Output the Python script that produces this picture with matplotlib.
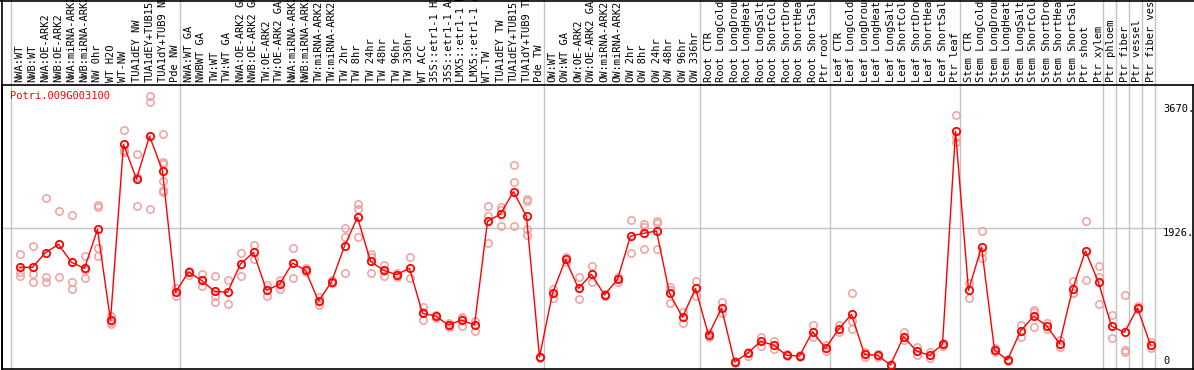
import numpy as np
import matplotlib
matplotlib.use("Agg")
import matplotlib.pyplot as plt
from matplotlib.lines import Line2D

gene = "Potri.009G003100"

samples = [
    "NWA:WT", "NWB:WT", "NWA:OE-ARK2", "NWB:OE-ARK2", "NWA:miRNA-ARK2", "NWB:miRNA-ARK2",
    "NW 0hr", "WT H2O", "WT-NW", "TUA1dEY NW", "TUA1dEY+TUB15", "TUA1dY+TUB9 NW", "Pde NW",
    "NWA:WT GA", "NWBWT GA", "TW:WT", "TW:WT GA", "NWA:OE-ARK2 GA", "NWB:OE-ARK2 GA",
    "TW:OE-ARK2", "TW:OE-ARK2 GA", "NWA:miRNA-ARK2", "NWB:miRNA-ARK2", "TW:miRNA-ARK2",
    "TW:miRNA-ARK2", "TW 2hr", "TW 8hr", "TW 24hr", "TW 48hr", "TW 96hr", "TW 336hr",
    "WT ACC", "35S::etr1-1 H2", "35S::etr1-1 AC", "LMX5::etr1-1 H", "LMX5::etr1-1 A",
    "WT-TW", "TUA1dEY TW", "TUA1dEY+TUB15", "TUA1dY+TUB9 TW", "Pde TW",
    "OW:WT", "OW:WT GA", "OW:OE-ARK2", "OW:OE-ARK2 GA", "OW:miRNA-ARK2", "OW:miRNA-ARK2",
    "OW 2hr", "OW 8hr", "OW 24hr", "OW 48hr", "OW 96hr", "OW 336hr",
    "Root CTR", "Root LongCold", "Root LongDroug", "Root LongHeat", "Root LongSalt",
    "Root ShortCold", "Root ShortDrou", "Root ShortHeat", "Root ShortSalt", "Ptr root",
    "Leaf CTR", "Leaf LongCold", "Leaf LongDroug", "Leaf LongHeat", "Leaf LongSalt",
    "Leaf ShortCold", "Leaf ShortDrou", "Leaf ShortHeat", "Leaf ShortSalt", "Ptr leaf",
    "Stem CTR", "Stem LongCold", "Stem LongDroug", "Stem LongHeat", "Stem LongSalt",
    "Stem ShortCold", "Stem ShortDrou", "Stem ShortHeat", "Stem ShortSalt", "Ptr shoot",
    "Ptr xylem", "Ptr phloem", "Ptr fiber", "Ptr vessel", "Ptr fiber vess",
]

# mean expression per sample
means = [
    1379, 1379, 1584, 1701, 1449, 1365, 1912, 635, 3104, 2618, 3221, 2735, 1028,
    1313, 1196, 1042, 1028, 1425, 1589, 1056, 1140, 1439, 1337, 906, 1173, 1678,
    2080, 1463, 1337, 1276, 1365, 733, 696, 570, 640, 570, 2024, 2127, 2440, 2094, 121,
    1014, 1491, 1084, 1281, 991, 1210, 1818, 1856, 1888, 1014, 677, 1084,
    429, 808, 51, 172, 340, 289, 144, 135, 476, 242,
    509, 719, 158, 144, 8, 406, 205, 144, 298, 3287,
    1056, 1664, 219, 79, 485, 691, 560, 308, 1070, 1608,
    1168, 551, 467, 808, 289,
]

# replicate values per sample
replicates = [
    [1566, 1308, 1262], [1673, 1280, 1177], [2347, 1238, 1173], [2164, 1238],
    [2108, 1173, 1070], [1533, 1341, 1224], [2258, 2220, 1645, 1533], [696, 616, 584],
    [3301, 3025, 2992], [2964, 2641, 2244], [3783, 3703, 2192],
    [3245, 2856, 2828, 2590, 2464, 2440], [1084, 981],
    [1332, 1276], [1285, 1196, 1121], [1252, 981, 888], [1196, 859], [1575, 1252],
    [1692, 1500], [1131, 972], [1201, 1079], [1650, 1229], [1365, 1308], [967, 855],
    [1201, 1163], [1926, 1804, 1299], [2262, 2197, 1804], [1566, 1528, 1299],
    [1416, 1327, 1262], [1294, 1248], [1519, 1224], [817, 747, 635], [710, 663],
    [593, 546], [686, 663, 560], [626, 490], [2244, 2099, 1725], [2230, 2183, 1954],
    [2814, 2571, 1954], [2342, 2314, 1912, 1828], [120, 102],
    [1079, 953], [1519, 1458], [1238, 930], [1397, 1168], [1004, 976], [1248, 1177],
    [2043, 1575], [1987, 1940, 1631], [2033, 2005, 1631], [1098, 1060, 883], [756, 602],
    [1182, 976],
    [462, 396], [887, 733], [60, 41], [191, 134], [396, 279], [349, 233], [158, 130],
    [149, 120], [569, 396], [289, 209],
    [569, 476], [1014, 630, 509], [186, 125], [163, 125], [22, 5], [476, 359],
    [265, 144], [191, 102], [321, 275], [3516, 3203, 3142],
    [1159, 944], [1888, 1598, 1505], [242, 191], [88, 69], [569, 396], [780, 747, 546],
    [602, 518], [359, 265], [1182, 1014, 1014], [2029, 1196],
    [1397, 1238, 864], [710, 387], [990, 219, 195], [836, 789], [336, 242],
]

# group separators: after these sample counts
group_ends = [0, 13, 41, 53, 63, 73, 84, 85, 86, 87, 88]
ytick_vals = [3670, 1926, 0]
ytick_text = ["3670.", "1926.", "0"]

W, H = 1194, 370
fig = plt.figure(figsize=(W / 100, H / 100), dpi=100)
ax = fig.add_axes([2 / W, 1 / H, 1191 / W, 284 / H])

x = np.arange(1, len(samples) + 1)
ax.set_xlim(1 + (2 - 19.5) / 13, 1 + (1193 - 19.5) / 13)
ax.set_ylim(-47.7, 3937)
ax.set_xticks([])
ax.set_yticks([])
for s in ax.spines.values():
    s.set_color("black")
    s.set_linewidth(1.2)

mono = "DejaVu Sans Mono"
grey = "#c4c4c4"

# horizontal grid at middle value
ax.axhline(ytick_vals[1], xmin=0, xmax=(1163 - 2) / 1191, color=grey, lw=1, zorder=1)

# vertical group separators running up through the label area
for g in group_ends:
    ax.axvline(g + 4 / 13, ymin=0, ymax=1 + 86 / 284, color=grey, lw=1,
               clip_on=False, zorder=1)

for xi, reps in zip(x, replicates):
    ax.plot([xi] * len(reps), reps, "o", ms=5.3, mfc="none", mec="#f0a0a0",
            mew=1.1, zorder=2)

ax.plot(x, means, "-", color="red", lw=1, zorder=3)
ax.plot(x, means, "o", ms=5.3, mfc="none", mec="red", mew=1.3, zorder=4)

# sample labels above the plot
tx = ax.get_xaxis_transform()
for xi, lab in zip(x, samples):
    ax.text(xi, 1 + 3 / 284, lab, transform=tx, rotation=90, ha="center",
            va="bottom", fontsize=7.5, family=mono, clip_on=False)

# value labels on the right
ty = ax.get_yaxis_transform()
for v, t in zip(ytick_vals, ytick_text):
    ax.text((1163 - 2) / 1191, v, t, transform=ty, ha="left",
            va="bottom" if v == 0 else "top", fontsize=7.5, family=mono)

ax.text(8 / 1191, 1 - 6 / 284, gene, transform=ax.transAxes,
        ha="left", va="top", color="red", fontsize=7.5, family=mono)

# outer frame lines of the label area
fig.add_artist(Line2D([0, 1], [1 - 0.5 / H, 1 - 0.5 / H], color="black", lw=1.2))
fig.add_artist(Line2D([2 / W, 2 / W], [0, 1], color="black", lw=1.2))

fig.savefig("out.png", dpi=100)
